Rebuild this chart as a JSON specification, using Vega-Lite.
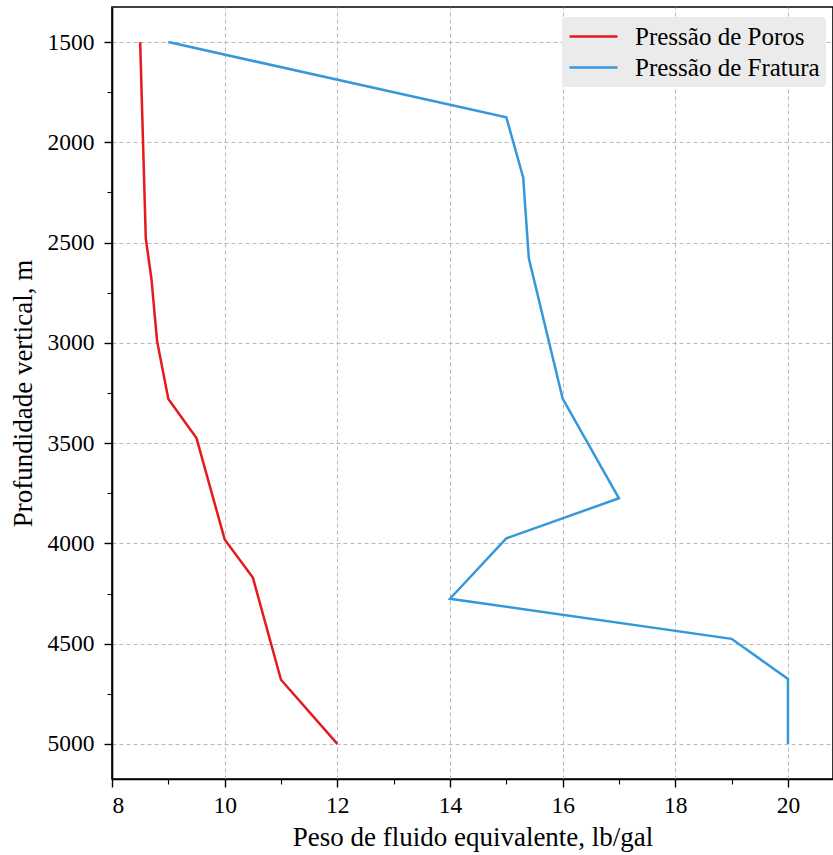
{
  "$schema": "https://vega.github.io/schema/vega-lite/v6.json",
  "width": 721,
  "height": 772,
  "autosize": {"type": "none"},
  "padding": {"left": 112, "top": 7, "right": 0, "bottom": 76},
  "background": "white",
  "config": {
    "font": "Liberation Serif",
    "view": {"stroke": "black", "strokeWidth": 1.6},
    "axis": {
      "domainColor": "black",
      "domainWidth": 1.6,
      "tickColor": "black",
      "tickWidth": 1.4,
      "tickSize": 8,
      "labelFont": "Liberation Serif",
      "labelFontSize": 23.5,
      "labelColor": "black",
      "titleFont": "Liberation Serif",
      "titleFontSize": 27,
      "titleFontWeight": "normal",
      "titleColor": "black",
      "gridColor": "#b0b0b0",
      "gridDash": [4, 3],
      "gridWidth": 0.9
    },
    "legend": {
      "labelFont": "Liberation Serif",
      "labelFontSize": 25,
      "labelColor": "black",
      "labelLimit": 0
    }
  },
  "data": {
    "values": [
      {"serie": "Pressão de Poros", "prof": 1500, "peso": 8.5},
      {"serie": "Pressão de Poros", "prof": 2480, "peso": 8.6},
      {"serie": "Pressão de Poros", "prof": 2680, "peso": 8.7},
      {"serie": "Pressão de Poros", "prof": 2990, "peso": 8.8},
      {"serie": "Pressão de Poros", "prof": 3280, "peso": 9.0},
      {"serie": "Pressão de Poros", "prof": 3475, "peso": 9.5},
      {"serie": "Pressão de Poros", "prof": 3980, "peso": 10.0},
      {"serie": "Pressão de Poros", "prof": 4170, "peso": 10.5},
      {"serie": "Pressão de Poros", "prof": 4680, "peso": 11.0},
      {"serie": "Pressão de Poros", "prof": 5000, "peso": 12.0},
      {"serie": "Pressão de Fratura", "prof": 1500, "peso": 9.0},
      {"serie": "Pressão de Fratura", "prof": 1875, "peso": 15.0},
      {"serie": "Pressão de Fratura", "prof": 2175, "peso": 15.3},
      {"serie": "Pressão de Fratura", "prof": 2578, "peso": 15.4},
      {"serie": "Pressão de Fratura", "prof": 3278, "peso": 16.0},
      {"serie": "Pressão de Fratura", "prof": 3775, "peso": 17.0},
      {"serie": "Pressão de Fratura", "prof": 3975, "peso": 15.0},
      {"serie": "Pressão de Fratura", "prof": 4276, "peso": 14.0},
      {"serie": "Pressão de Fratura", "prof": 4476, "peso": 19.0},
      {"serie": "Pressão de Fratura", "prof": 4676, "peso": 20.0},
      {"serie": "Pressão de Fratura", "prof": 5000, "peso": 20.0}
    ]
  },
  "layer": [
    {
      "mark": {"type": "line", "strokeWidth": 2.5},
      "encoding": {
        "x": {
          "field": "peso",
          "type": "quantitative",
          "scale": {"domain": [8, 20.8], "nice": false, "zero": false},
          "axis": {
            "orient": "bottom",
            "values": [8, 10, 12, 14, 16, 18, 20],
            "grid": true,
            "labelPadding": 6,
            "titlePadding": 8,
            "title": "Peso de fluido equivalente, lb/gal"
          }
        },
        "y": {
          "field": "prof",
          "type": "quantitative",
          "scale": {"domain": [1325, 5175], "reverse": true, "nice": false, "zero": false},
          "axis": {
            "orient": "left",
            "values": [1500, 2000, 2500, 3000, 3500, 4000, 4500, 5000],
            "format": "d",
            "grid": true,
            "labelPadding": 10,
            "titlePadding": 10,
            "title": "Profundidade vertical, m"
          }
        },
        "color": {
          "field": "serie",
          "type": "nominal",
          "scale": {
            "domain": ["Pressão de Poros", "Pressão de Fratura"],
            "range": ["#e41a1c", "#3498db"]
          },
          "legend": {
            "title": null,
            "orient": "none",
            "legendX": 450,
            "legendY": 10,
            "fillColor": "#ebebeb",
            "cornerRadius": 4,
            "padding": 6,
            "symbolType": "M-1,0H3",
            "symbolSize": 576,
            "symbolStrokeWidth": 2.5,
            "labelOffset": 40,
            "labelLimit": 0,
            "rowPadding": 4
          }
        },
        "order": {"field": "prof", "type": "quantitative"}
      }
    },
    {
      "mark": {"type": "line", "opacity": 0},
      "encoding": {
        "x": {
          "field": "peso",
          "type": "quantitative",
          "axis": {
            "orient": "bottom",
            "values": [9, 11, 13, 15, 17, 19],
            "labels": false,
            "domain": false,
            "grid": false,
            "tickSize": 5,
            "tickWidth": 1.1,
            "title": null
          }
        },
        "y": {
          "field": "prof",
          "type": "quantitative",
          "axis": {
            "orient": "left",
            "values": [1750, 2250, 2750, 3250, 3750, 4250, 4750],
            "labels": false,
            "domain": false,
            "grid": false,
            "tickSize": 5,
            "tickWidth": 1.1,
            "title": null
          }
        },
        "detail": {"field": "serie", "type": "nominal"},
        "order": {"field": "prof", "type": "quantitative"}
      }
    }
  ],
  "resolve": {"axis": {"x": "independent", "y": "independent"}}
}
